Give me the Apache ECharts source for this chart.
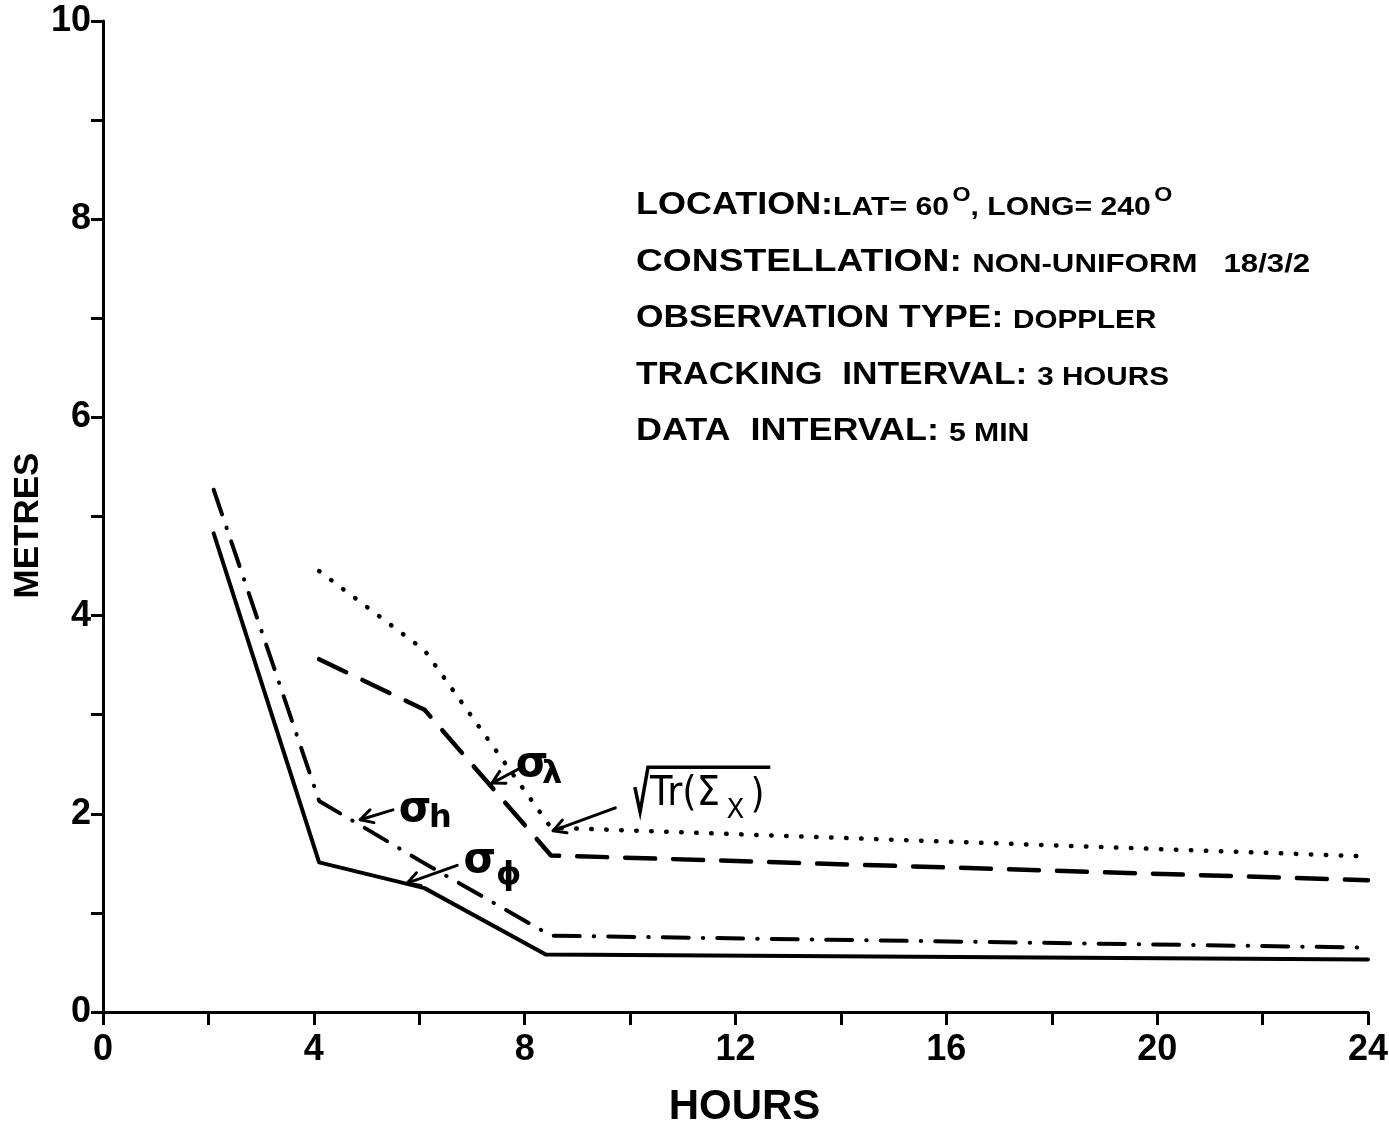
<!DOCTYPE html>
<html>
<head>
<meta charset="utf-8">
<title>Position error vs hours</title>
<script src="https://cdn.jsdelivr.net/npm/echarts@6/dist/echarts.min.js"></script>
<style>
  html, body { margin: 0; padding: 0; background: #fff; }
  #chart { width: 1389px; height: 1126px; }
</style>
</head>
<body>
<div id="chart"></div>
<script>
// Standard deviations (metres) against elapsed tracking time (hours)
const hoursPhi = [2.1, 4.1, 6.1, 8.4, 24];
const sigmaPhi = [4.83, 1.51, 1.25, 0.58, 0.53];

const hoursH = [2.1, 4.1, 6.1, 8.5, 24];
const sigmaH = [5.27, 2.13, 1.50, 0.77, 0.65];

const hoursLambda = [4.1, 6.1, 8.5, 24];
const sigmaLambda = [3.56, 3.05, 1.58, 1.33];

const hoursTrace = [4.1, 6.1, 8.5, 24];
const rootTrace = [4.45, 3.65, 1.86, 1.57];

// Axis ranges and labelled ticks
const xRange = [0, 24];
const yRange = [0, 10];
const xLabelled = [0, 4, 8, 12, 16, 20, 24];
const yLabelled = [0, 2, 4, 6, 8, 10];

// Descriptive block
const infoLines = [
  [['h', 'LOCATION:'], ['v', 'LAT= 60'], ['sup', 'O'], ['v', ', LONG= 240'], ['sup', 'O']],
  [['h', 'CONSTELLATION: '], ['v', 'NON-UNIFORM   18/3/2']],
  [['h', 'OBSERVATION TYPE: '], ['v', 'DOPPLER']],
  [['h', 'TRACKING  INTERVAL: '], ['v', '3 HOURS']],
  [['h', 'DATA  INTERVAL: '], ['v', '5 MIN']]
];

// Curve labels: glyph pieces placed at data coordinates, with an arrow to the curve
const sigmaNotes = [
  { parts: [['σ', 8.14, 2.49, 'big'], ['λ', 8.52, 2.39, 'sub']], arrow: [[7.91, 2.46], [7.38, 2.31]] },
  { parts: [['σ', 5.92, 2.04, 'big'], ['h', 6.40, 1.95, 'sub']], arrow: [[5.50, 2.04], [4.88, 1.94]] },
  { parts: [['σ', 7.15, 1.52, 'big'], ['ϕ', 7.70, 1.38, 'sub']], arrow: [[6.72, 1.48], [5.77, 1.30]] }
];
const traceRadical = [[10.09, 2.27], [10.19, 2.02], [10.34, 2.47], [12.66, 2.47]];
const traceParts = [['Tr(Σ', 10.38, 2.19, 'trLeft'], ['X', 12.0, 2.03, 'trSub'], [')', 12.42, 2.17, 'trMid']];
const traceArrow = [[9.72, 2.06], [8.54, 1.83]];

const zip = (xs, ys) => xs.map((x, i) => [x, ys[i]]);

const tickFont = "'Liberation Sans Narrow', 'Liberation Sans', Arial, sans-serif";
const textFont = "'Liberation Sans', Arial, sans-serif";
const greekFont = "'DejaVu Sans', sans-serif";

const chart = echarts.init(document.getElementById('chart'), null, { renderer: 'canvas' });

const lineBase = { color: '#000', width: 4, cap: 'round', join: 'round' };

chart.setOption({
  animation: false,
  backgroundColor: '#fff',
  grid: { left: 103, right: 21, top: 21, bottom: 114, containLabel: false, outerBoundsMode: 'none' },
  xAxis: {
    type: 'value', min: xRange[0], max: xRange[1], interval: 2,
    name: 'HOURS', nameLocation: 'middle', nameGap: 74, nameMoveOverlap: false,
    nameTextStyle: { fontFamily: textFont, fontWeight: 'bold', fontSize: 42, color: '#000', padding: [0, 0, 0, 18] },
    axisLine: { lineStyle: { color: '#000', width: 3 } },
    axisTick: { show: true, length: 13, lineStyle: { color: '#000', width: 3 } },
    axisLabel: {
      margin: 20, color: '#000', fontFamily: tickFont, fontWeight: 'bold', fontSize: 36,
      formatter: v => (xLabelled.includes(v) ? String(v) : '')
    },
    splitLine: { show: false }
  },
  yAxis: {
    type: 'value', min: yRange[0], max: yRange[1], interval: 1,
    name: 'METRES', nameLocation: 'middle', nameGap: 57, nameMoveOverlap: false,
    nameTextStyle: { fontFamily: textFont, fontWeight: 'bold', fontSize: 35, color: '#000', padding: [0, 18, 0, 0] },
    axisLine: { lineStyle: { color: '#000', width: 3 } },
    axisTick: { show: true, length: 12, lineStyle: { color: '#000', width: 3 } },
    axisLabel: {
      margin: 12, color: '#000', fontFamily: tickFont, fontWeight: 'bold', fontSize: 36,
      formatter: v => (yLabelled.includes(v) ? String(v) : '')
    },
    splitLine: { show: false }
  },
  series: [
    { name: 'σφ', type: 'line', data: zip(hoursPhi, sigmaPhi), symbol: 'none',
      lineStyle: Object.assign({}, lineBase, { type: 'solid', width: 4 }) },
    { name: 'σh', type: 'line', data: zip(hoursH, sigmaH), symbol: 'none',
      lineStyle: Object.assign({}, lineBase, { type: [26, 14, 0.5, 14], width: 4 }) },
    { name: 'σλ', type: 'line', data: zip(hoursLambda, sigmaLambda), symbol: 'none',
      lineStyle: Object.assign({}, lineBase, { type: [30, 18], width: 4.5 }) },
    { name: 'sqrt Tr', type: 'line', data: zip(hoursTrace, rootTrace), symbol: 'none',
      lineStyle: Object.assign({}, lineBase, { type: [0.5, 14.5], width: 4.5 }) }
  ]
});

// ---- annotations --------------------------------------------------------
const px = p => chart.convertToPixel({ gridIndex: 0 }, p);
const glyphStyle = {
  big: { font: `bold 42px ${greekFont}` },
  sub: { font: `bold 32px ${greekFont}` },
  trLeft: { font: `40px ${greekFont}`, align: 'left', scaleX: 0.92 },
  trSub: { font: `26px ${greekFont}` },
  trMid: { font: `40px ${greekFont}`, scaleX: 0.9 }
};

function arrowEls(from, to) {
  const a = px(from), b = px(to);
  const ang = Math.atan2(b[1] - a[1], b[0] - a[0]);
  const L = 14, spread = 0.5;
  const h1 = [b[0] - L * Math.cos(ang - spread), b[1] - L * Math.sin(ang - spread)];
  const h2 = [b[0] - L * Math.cos(ang + spread), b[1] - L * Math.sin(ang + spread)];
  return [
    { type: 'line', shape: { x1: a[0], y1: a[1], x2: b[0], y2: b[1] },
      style: { stroke: '#000', lineWidth: 3, lineCap: 'round' } },
    { type: 'polyline', shape: { points: [h1, b, h2] },
      style: { stroke: '#000', lineWidth: 3, fill: null, lineCap: 'round', lineJoin: 'round' } }
  ];
}

function glyphEl(part) {
  const [text, x, y, kind] = part;
  const p = px([x, y]);
  const s = glyphStyle[kind];
  return {
    type: 'text', x: p[0], y: p[1], scaleX: s.scaleX || 1,
    style: { text, font: s.font, fill: '#000', align: s.align || 'center', verticalAlign: 'middle' }
  };
}

const elements = [];
sigmaNotes.forEach(n => {
  n.parts.forEach(p => elements.push(glyphEl(p)));
  arrowEls(n.arrow[0], n.arrow[1]).forEach(e => elements.push(e));
});
elements.push({
  type: 'polyline', shape: { points: traceRadical.map(px) },
  style: { stroke: '#000', lineWidth: 3.5, fill: null, lineJoin: 'miter' }
});
traceParts.forEach(p => elements.push(glyphEl(p)));
arrowEls(traceArrow[0], traceArrow[1]).forEach(e => elements.push(e));

// information block (extended lettering)
const infoTop = 203, infoStep = 56.5, infoLeft = 636;
const infoStretch = [1.16, 1.2, 1.14, 1.14, 1.16];
infoLines.forEach((line, i) => {
  elements.push({
    type: 'text', x: infoLeft, y: infoTop + i * infoStep, scaleX: infoStretch[i],
    style: {
      text: line.map(([k, t]) => `{${k}|${t}}`).join(''),
      fill: '#000', align: 'left', verticalAlign: 'middle',
      rich: {
        h: { fontFamily: textFont, fontWeight: 'bold', fontSize: 31, verticalAlign: 'bottom', lineHeight: 36 },
        v: { fontFamily: textFont, fontWeight: 'bold', fontSize: 26, verticalAlign: 'bottom', lineHeight: 36 },
        sup: { fontFamily: textFont, fontWeight: 'bold', fontSize: 20, verticalAlign: 'top', lineHeight: 36, padding: [0, 0, 0, 3] }
      }
    }
  });
});

chart.setOption({ graphic: { elements } });
</script>
</body>
</html>
